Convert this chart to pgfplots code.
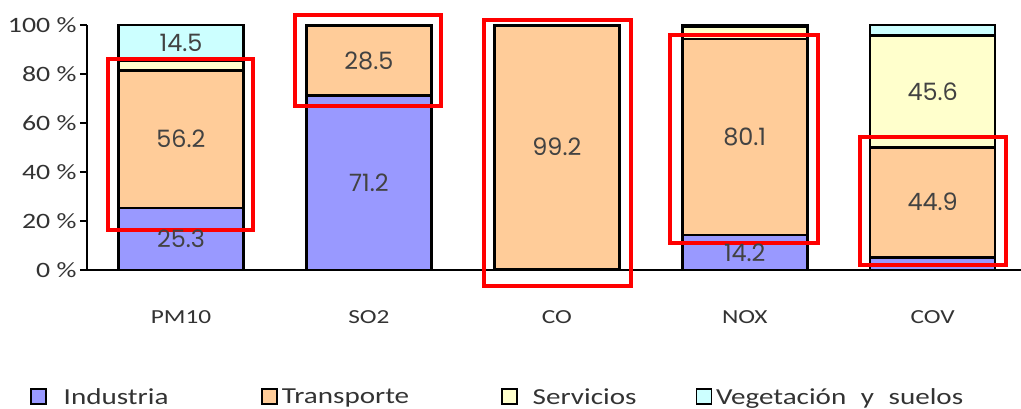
\documentclass[border=0pt]{standalone}
\usepackage{fontspec}
\setmainfont{Carlito}[FakeStretch=1.27]
\newfontfamily\valfont{Poppins}
\usepackage{pgfplots}
\pgfplotsset{compat=1.18}
\usetikzlibrary{calc}
\definecolor{ind}{HTML}{9999FF}
\definecolor{tra}{HTML}{FFCC99}
\definecolor{ser}{HTML}{FFFFCC}
\definecolor{veg}{HTML}{CCFFFF}
\definecolor{valgray}{HTML}{424242}
\definecolor{tickgray}{HTML}{333333}
\tikzset{redbox/.style={draw=red, line width=3.8bp}}
\pgfplotsset{common/.style={scale only axis, width=934bp, height=245bp,
  xmin=-0.5, xmax=4.47, ymin=0, ymax=100, clip=false}}
\begin{document}
\begin{tikzpicture}
\begin{axis}[
  common,
  ybar stacked, bar width=125bp,
  axis lines=left,
  axis line style={line width=2.5bp, -},
  xtick={0,1,2,3,4},
  xticklabels={PM10,SO2,CO,NOX,COV},
  xtick style={draw=none},
  xticklabel style={yshift=-30bp, font=\fontsize{20}{24}\selectfont, text=tickgray},
  ytick={0,20,40,60,80,100},
  yticklabels={0 \%,20 \%,40 \%,60 \%,80 \%,100 \%},
  yticklabel style={font=\fontsize{22}{24}\selectfont, text=tickgray},
  tick align=outside,
  major tick length=7bp,
  ytick style={line width=2.5bp, black},
  legend columns=4,
  legend image code/.code={\draw[#1, line width=1.5bp] (0bp,-7bp) rectangle (15bp,8bp);},
  legend style={draw=none, fill=none, at={(axis description cs:-0.061,-0.518)}, anchor=west,
    inner sep=0pt, font=\fontsize{23}{25}\selectfont, text=tickgray,
    nodes={inner sep=0pt},
    /tikz/column 1/.style={column sep=17bp},
    /tikz/column 2/.style={column sep=93bp},
    /tikz/column 3/.style={column sep=4bp},
    /tikz/column 4/.style={column sep=92bp},
    /tikz/column 5/.style={column sep=15bp},
    /tikz/column 6/.style={column sep=59bp},
    /tikz/column 7/.style={column sep=4bp}},
]
\addplot[fill=ind, draw=black, line width=2.5bp] coordinates {(0,25.3) (1,71.2) (2,0.5) (3,14.2) (4,5.2)};
\addplot[fill=tra, draw=black, line width=2.5bp] coordinates {(0,56.2) (1,28.5) (2,99.2) (3,80.1) (4,44.9)};
\addplot[fill=ser, draw=black, line width=2.5bp] coordinates {(0,4.0) (1,0.3) (2,0.3) (3,5.0) (4,45.6)};
\addplot[fill=veg, draw=black, line width=2.5bp] coordinates {(0,14.5) (1,0) (2,0) (3,0.7) (4,4.3)};
\legend{Industria,Transporte,Servicios,Vegetación\hspace{0.35em} y\hspace{0.35em} suelos}
\coordinate (ll) at (rel axis cs:0,0);
\coordinate (ur) at (rel axis cs:1,1);
\end{axis}
\begin{axis}[common, hide axis]
\addplot[draw=none, mark=none, nodes near coords, point meta=explicit symbolic,
  every node near coord/.append style={anchor=center, font=\valfont\fontsize{24}{24}\selectfont, text=valgray}]
  coordinates {(0,12.65)[25.3] (0,53.4)[56.2] (0,92.75)[14.5]
               (1,35.6)[71.2] (1,85.45)[28.5]
               (2,50.1)[99.2]
               (3,7.1)[14.2] (3,54.25)[80.1]
               (4,27.65)[44.9] (4,72.9)[45.6]};
\draw[redbox] (axis cs:-0.388,16.3) rectangle (axis cs:0.383,86.1);
\draw[redbox] (axis cs:0.606,66.9) rectangle (axis cs:1.383,104.1);
\draw[redbox] (axis cs:1.612,-6.5) rectangle (axis cs:2.394,102.0);
\draw[redbox] (axis cs:2.601,11.0) rectangle (axis cs:3.388,95.9);
\draw[redbox] (axis cs:3.612,2.0) rectangle (axis cs:4.388,54.3);
\end{axis}
\pgfresetboundingbox
\path ($(ll)+(-87bp,-139bp)$) rectangle ($(ur)+(0bp,25bp)$);
\end{tikzpicture}
\end{document}
